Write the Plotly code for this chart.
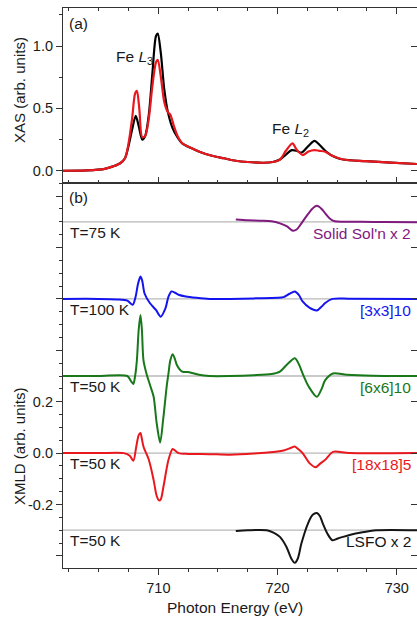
import plotly.graph_objects as go

# ---------------- data ----------------
# Panel (a): XAS
xas_black_E = [702.0, 704.0, 705.5, 706.2, 706.8, 707.2, 707.5, 707.8, 708.1, 708.35, 708.65, 708.9,
               709.2, 709.5, 709.8, 709.95, 710.2, 710.5, 710.8, 711.2, 711.6, 712.0, 712.8, 713.5,
               714.5, 715.5, 716.5, 717.5, 718.8, 719.6, 720.2, 720.7, 721.2, 721.6, 722.0, 722.6,
               723.1, 723.6, 724.1, 724.8, 725.5, 727.4, 729.5, 731.7]
xas_black_v = [0.0, 0.003, 0.015, 0.035, 0.06, 0.10, 0.2, 0.33, 0.44, 0.36, 0.25, 0.28,
               0.45, 0.78, 1.08, 1.10, 0.95, 0.65, 0.47, 0.34, 0.27, 0.22, 0.18, 0.15,
               0.12, 0.10, 0.08, 0.07, 0.064, 0.07, 0.09, 0.13, 0.165, 0.16, 0.145, 0.2,
               0.24, 0.2, 0.152, 0.11, 0.09, 0.077, 0.065, 0.054]

xas_red_E = [702.0, 704.0, 705.5, 706.2, 706.8, 707.2, 707.5, 707.8, 708.05, 708.2, 708.4, 708.65,
             708.9, 709.2, 709.5, 709.8, 709.95, 710.2, 710.5, 710.8, 711.0, 711.3, 711.6, 712.0,
             712.8, 713.5, 714.5, 715.5, 716.5, 717.5, 718.8, 719.6, 720.2, 720.7, 721.25, 721.6,
             722.1, 722.6, 723.1, 723.5, 724.0, 724.6, 725.5, 727.4, 729.5, 731.7]
xas_red_v = [0.0, 0.003, 0.015, 0.035, 0.06, 0.10, 0.22, 0.42, 0.62, 0.64, 0.5, 0.27,
             0.28, 0.42, 0.68, 0.87, 0.89, 0.76, 0.55, 0.47, 0.45, 0.36, 0.28, 0.22,
             0.18, 0.15, 0.12, 0.10, 0.08, 0.07, 0.064, 0.07, 0.09, 0.16, 0.22, 0.17,
             0.126, 0.155, 0.166, 0.16, 0.152, 0.12, 0.09, 0.077, 0.065, 0.054]

# Panel (b): XMLD (as drawn, before vertical offset)
sol_E = [716.5, 717.5, 718.5, 719.5, 720.2, 720.8, 721.3, 721.6, 721.9, 722.4, 722.9, 723.3,
         723.7, 724.0, 724.4, 724.8, 725.5, 727.0, 729.0, 731.7]
sol_v = [0.009, 0.006, 0.004, 0.002, -0.006, -0.018, -0.035, -0.03, -0.013, 0.02, 0.05, 0.062,
         0.05, 0.033, 0.012, 0.002, 0.0, 0.0, -0.001, -0.002]

s3_E = [702.0, 705.0, 706.5, 707.4, 707.85, 708.1, 708.3, 708.5, 708.65, 708.85, 709.3, 709.8,
        710.2, 710.6, 710.85, 711.1, 711.4, 711.7, 712.3, 713.2, 714.3, 716.0, 718.0, 720.0,
        720.5, 721.0, 721.45, 721.8, 722.1, 722.7, 723.3, 723.7, 724.0, 724.6, 726.0, 731.7]
s3_v = [0.0, 0.0, -0.002, -0.007, -0.023, 0.01, 0.06, 0.087, 0.07, 0.02, -0.017, -0.043,
        -0.069, -0.036, 0.009, 0.029, 0.024, 0.016, 0.009, 0.004, 0.0, 0.0, 0.002, 0.004,
        0.007, 0.02, 0.029, 0.015, -0.01, -0.035, -0.045, -0.03, -0.016, 0.0, 0.001, 0.0]

s6_E = [702.0, 705.0, 707.4, 707.7, 707.9, 708.05, 708.2, 708.35, 708.5, 708.62, 708.75, 709.0,
        709.3, 709.6, 709.85, 710.15, 710.4, 710.7, 710.85, 711.0, 711.2, 711.4, 711.55, 712.0,
        712.6, 713.4, 714.3, 716.0, 718.0, 719.5, 720.2, 720.8, 721.45, 721.8, 722.1, 722.6,
        723.3, 723.7, 724.0, 724.65, 725.8, 728.0, 731.7]
s6_v = [0.0, 0.0, 0.0, -0.02, -0.031, 0.0, 0.062, 0.18, 0.237, 0.18, 0.062, 0.01,
        -0.035, -0.08, -0.18, -0.259, -0.171, -0.04, 0.01, 0.06, 0.085, 0.065, 0.043, 0.017,
        0.015, 0.005, 0.0, 0.0, 0.003, 0.008, 0.017, 0.045, 0.069, 0.045, 0.01, -0.04,
        -0.081, -0.05, -0.016, 0.01, 0.005, 0.001, 0.0]

s18_E = [702.0, 705.0, 707.1, 707.6, 707.9, 708.15, 708.35, 708.5, 708.6, 708.75, 709.2, 709.6,
         709.85, 710.05, 710.2, 710.43, 710.85, 711.2, 711.45, 711.7, 712.5, 714.3, 716.0, 718.0,
         720.0, 720.5, 721.1, 721.45, 721.75, 722.1, 722.7, 723.2, 723.6, 724.0, 724.65, 726.0, 731.7]
s18_v = [0.0, 0.0, 0.0, -0.01, -0.03, 0.026, 0.07, 0.078, 0.06, 0.026, -0.026, -0.104,
         -0.165, -0.184, -0.18, -0.13, -0.026, 0.016, 0.008, 0.0, -0.003, -0.004, -0.006, -0.002,
         0.006, 0.01, 0.02, 0.026, 0.015, 0.0, -0.04, -0.055, -0.04, -0.026, 0.005, 0.0, 0.0]

lsfo_E = [716.5, 717.5, 719.1, 719.7, 720.2, 720.75, 721.15, 721.45, 721.7, 722.0, 722.55, 722.95,
          723.3, 723.55, 723.8, 724.2, 724.6, 725.0, 725.5, 726.2, 726.9, 728.3, 731.7]
lsfo_v = [-0.003, 0.0, 0.0, -0.01, -0.026, -0.065, -0.11, -0.127, -0.11, -0.052, 0.026, 0.06,
          0.067, 0.055, 0.026, -0.015, -0.039, -0.033, -0.026, -0.017, -0.01, 0.0, 0.0]

offsets = [0.9, 0.6, 0.3, 0.0, -0.3]
temps = ["T=75 K", "T=100 K", "T=50 K", "T=50 K", "T=50 K"]
names = ["Solid Sol'n x 2", "[3x3]10", "[6x6]10", "[18x18]5", "LSFO x 2"]

x_ticks = [710, 720, 730]
xas_ticks = [0.0, 0.5, 1.0]
xmld_ticks = [-0.4, -0.2, 0.0, 0.2, 0.4, 0.6, 0.8, 1.0]
xmld_labels = ["", "-0.2", "0.0", "0.2", "", "", "", ""]

# ---------------- styling ----------------
FONT = "Arial, Liberation Sans, sans-serif"
AX = "#333333"
colors = ["#7f1a7f", "#1414f0", "#18781a", "#e8181e", "#151515"]
XR = [702.0, 731.7]
YA = [-0.096, 1.305]
YB = [-0.447, 1.052]
split = 0.688

fig = go.Figure()

# baselines
for off in offsets:
    fig.add_shape(type="line", xref="x2 domain", yref="y2", x0=0, x1=1, y0=off, y1=off,
                  line=dict(color="#b8b8b8", width=1.3), layer="below")

fig.add_trace(go.Scatter(x=xas_black_E, y=xas_black_v, mode="lines", xaxis="x", yaxis="y",
                         line=dict(color="#000000", width=2.2, shape="spline", smoothing=0.8)))
fig.add_trace(go.Scatter(x=xas_red_E, y=xas_red_v, mode="lines", xaxis="x", yaxis="y",
                         line=dict(color="#e8181e", width=2.2, shape="spline", smoothing=0.8)))

series = [(sol_E, sol_v), (s3_E, s3_v), (s6_E, s6_v), (s18_E, s18_v), (lsfo_E, lsfo_v)]
for (E, v), off, c in zip(series, offsets, colors):
    fig.add_trace(go.Scatter(x=E, y=[val + off for val in v], mode="lines", xaxis="x2", yaxis="y2",
                             line=dict(color=c, width=2, shape="spline", smoothing=0.8)))

# empty traces so the right-side (inward tick) axes are drawn
fig.add_trace(go.Scatter(x=[None], y=[None], mode="lines", xaxis="x", yaxis="y3", hoverinfo="skip"))
fig.add_trace(go.Scatter(x=[None], y=[None], mode="lines", xaxis="x2", yaxis="y4", hoverinfo="skip"))

ann = []
tf = dict(family=FONT, size=15.5, color="#1a1a1a")
for off, t, n, c in zip(offsets, temps, names, colors):
    ann.append(dict(x=702.4, y=off - 0.04, xref="x2", yref="y2", text=t, showarrow=False,
                    xanchor="left", yanchor="middle", font=tf))
    ann.append(dict(x=731.35, y=off - 0.045, xref="x2", yref="y2", text=n, showarrow=False,
                    xanchor="right", yanchor="middle", font=dict(family=FONT, size=15.5, color=c)))
ann.append(dict(x=702.35, y=1.18, xref="x", yref="y", text="(a)", showarrow=False,
                xanchor="left", yanchor="middle", font=tf))
ann.append(dict(x=702.35, y=0.995, xref="x2", yref="y2", text="(b)", showarrow=False,
                xanchor="left", yanchor="middle", font=tf))
ann.append(dict(x=706.3, y=0.91, xref="x", yref="y", text="Fe <i>L</i><sub>3</sub>", showarrow=False,
                xanchor="left", yanchor="middle", font=tf))
ann.append(dict(x=719.4, y=0.33, xref="x", yref="y", text="Fe <i>L</i><sub>2</sub>", showarrow=False,
                xanchor="left", yanchor="middle", font=tf))
# axis titles
H = 560.0
W = 354.0
ann.append(dict(x=(19 - 63) / W, y=(568 - 90) / H, xref="paper", yref="paper", text="XAS (arb. units)",
                textangle=-90, showarrow=False, xanchor="center", yanchor="middle",
                font=dict(family=FONT, size=15, color="#1a1a1a")))
ann.append(dict(x=(19 - 63) / W, y=(568 - 446) / H, xref="paper", yref="paper", text="XMLD (arb. units)",
                textangle=-90, showarrow=False, xanchor="center", yanchor="middle",
                font=dict(family=FONT, size=15, color="#1a1a1a")))
ann.append(dict(x=(234.5 - 63) / W, y=(568 - 607) / H, xref="paper", yref="paper", text="Photon Energy (eV)",
                showarrow=False, xanchor="center", yanchor="middle",
                font=dict(family=FONT, size=15.5, color="#1a1a1a")))

tickfont = dict(family=FONT, size=14.5, color="#1a1a1a")
common = dict(showgrid=False, zeroline=False, showline=True, linecolor=AX, linewidth=1.2,
              tickcolor=AX, tickwidth=1.2, automargin=False)

fig.update_layout(
    width=417, height=619,
    margin=dict(l=63, r=0, t=8, b=51, autoexpand=False),
    paper_bgcolor="white", plot_bgcolor="white",
    showlegend=False,
    annotations=ann,
    xaxis=dict(domain=[0, 1], anchor="y", range=XR, showticklabels=False, ticks="inside",
               ticklen=6, mirror="ticks", tickvals=x_ticks,
               minor=dict(tickmode="linear", tick0=700, dtick=2.5, ticks="inside", ticklen=3,
                          tickcolor=AX, tickwidth=1.2), **common),
    yaxis=dict(domain=[split, 1], anchor="x", range=YA, ticks="outside", ticklen=6, mirror=True,
               tickvals=xas_ticks, ticktext=["%.1f" % v for v in xas_ticks], tickfont=tickfont,
               minor=dict(tickmode="linear", tick0=0, dtick=0.25, ticks="outside", ticklen=3,
                          tickcolor=AX, tickwidth=1.2), **common),
    yaxis3=dict(overlaying="y", side="right", anchor="x", range=YA, ticks="inside", ticklen=6,
                showticklabels=False, tickvals=xas_ticks, showgrid=False, zeroline=False,
                showline=False, tickcolor=AX, tickwidth=1.2, automargin=False),
    xaxis2=dict(domain=[0, 1], anchor="y2", range=XR, ticks="outside", ticklen=6, mirror=True,
                tickvals=x_ticks, ticktext=[str(v) for v in x_ticks], tickfont=tickfont,
                minor=dict(tickmode="linear", tick0=700, dtick=2.5, ticks="outside", ticklen=3,
                           tickcolor=AX, tickwidth=1.2), **common),
    yaxis2=dict(domain=[0, split], anchor="x2", range=YB, ticks="outside", ticklen=6, mirror=True,
                tickvals=xmld_ticks, ticktext=xmld_labels, tickfont=tickfont,
                minor=dict(tickmode="linear", tick0=0, dtick=0.05, ticks="outside", ticklen=3,
                           tickcolor=AX, tickwidth=1.2), **common),
    yaxis4=dict(overlaying="y2", side="right", anchor="x2", range=YB, ticks="inside", ticklen=6,
                showticklabels=False, tickvals=xmld_ticks, showgrid=False, zeroline=False,
                showline=False, tickcolor=AX, tickwidth=1.2, automargin=False),
)

# remove the browser's default 8px page margin so the figure sits at the window's corner
fig.write_html("out.html", config={"displayModeBar": False},
               post_script="document.body.style.margin='0';document.body.style.overflow='hidden';")
